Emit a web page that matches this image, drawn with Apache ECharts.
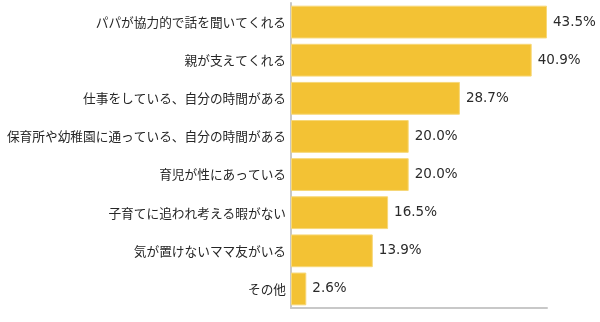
<!DOCTYPE html>
<html>
<head>
<meta charset="utf-8">
<script src="https://cdn.jsdelivr.net/npm/echarts@6/dist/echarts.min.js"></script>
<style>
  html, body { margin: 0; padding: 0; background: #ffffff; }
  #chart { width: 600px; height: 322px; }
</style>
</head>
<body>
<div id="chart"></div>
<script>
// Answer categories, listed top to bottom
const categories = [
  'パパが協力的で話を聞いてくれる',
  '親が支えてくれる',
  '仕事をしている、自分の時間がある',
  '保育所や幼稚園に通っている、自分の時間がある',
  '育児が性にあっている',
  '子育てに追われ考える暇がない',
  '気が置けないママ友がいる',
  'その他'
];
// Share of respondents (%)
const values = [43.5, 40.9, 28.7, 20.0, 20.0, 16.5, 13.9, 2.6];

const chart = echarts.init(document.getElementById('chart'), null, { renderer: 'canvas' });

chart.setOption({
  animation: false,
  grid: { left: 291, right: 53, top: 3, bottom: 14, containLabel: false },
  xAxis: {
    type: 'value',
    min: 0,
    max: 43.5,
    show: true,
    axisLine: { show: true, lineStyle: { color: '#c8c8c8', width: 2 } },
    axisTick: { show: false },
    axisLabel: { show: false },
    splitLine: { show: false }
  },
  yAxis: {
    type: 'category',
    inverse: true,
    data: categories,
    axisLine: { show: true, lineStyle: { color: '#c8c8c8', width: 2 } },
    axisTick: { show: false },
    axisLabel: {
      margin: 5,
      color: '#262626',
      fontSize: 12.7,
      fontFamily: '"Noto Sans CJK JP", sans-serif'
    }
  },
  series: [{
    type: 'bar',
    data: values,
    barCategoryGap: '14%',
    itemStyle: {
      color: '#F3C234',
      borderColor: '#F7D878',
      borderWidth: 1
    },
    label: {
      show: true,
      position: 'right',
      distance: 6,
      color: '#2a2a2a',
      fontSize: 13.5,
      fontFamily: '"DejaVu Sans", sans-serif',
      formatter: p => p.value.toFixed(1) + '%'
    }
  }]
});
</script>
</body>
</html>
